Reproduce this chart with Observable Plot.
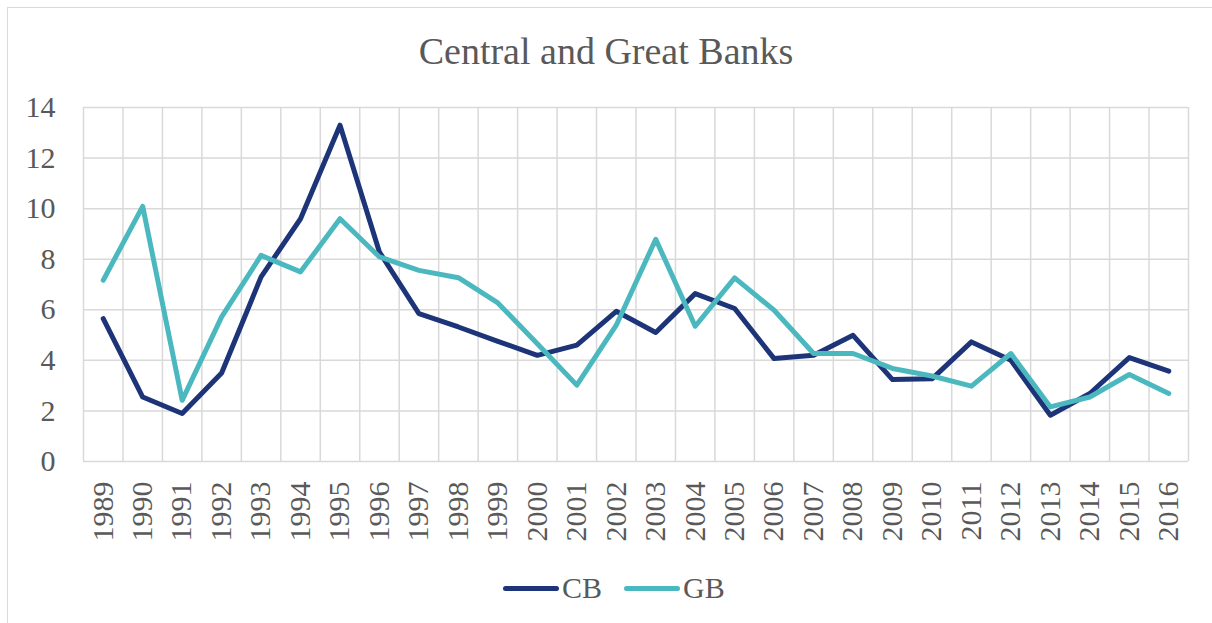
<!DOCTYPE html>
<html>
<head>
<meta charset="utf-8">
<script src="https://cdn.jsdelivr.net/npm/d3@7"></script>
<script src="https://cdn.jsdelivr.net/npm/@observablehq/plot@0.6"></script>
<style>
  html, body { margin: 0; padding: 0; background: #fff; overflow: hidden; }
  #wrap { position: relative; width: 1212px; height: 623px; font-family: "Liberation Serif", "Times New Roman", serif; color: #595959; }
  #frame { position: absolute; left: 7px; top: 7px; width: 1300px; height: 700px; border-left: 1.5px solid #d9d9d9; border-top: 1.5px solid #d9d9d9; }
  #title { position: absolute; left: 0; width: 1212px; top: 28px; text-align: center; font-size: 38px; line-height: 46px; }
  #legend { position: absolute; left: 503px; top: 569px; display: flex; align-items: center; font-size: 30px; line-height: 38px; }
  .sw { display: inline-block; width: 56px; height: 5px; border-radius: 3px; margin-right: 3px; }
  #chart { position: absolute; left: 0; top: 0; }
  #chart svg, #chart svg text { font-family: "Liberation Serif", "Times New Roman", serif !important; }
</style>
</head>
<body>
<div id="wrap">
  <div id="frame"></div>
  <div id="chart"></div>
  <div id="title">Central and Great Banks</div>
  <div id="legend"></div>
</div>
<script>
const years = [1989,1990,1991,1992,1993,1994,1995,1996,1997,1998,1999,2000,2001,2002,2003,2004,2005,2006,2007,2008,2009,2010,2011,2012,2013,2014,2015,2016];
const cbValues = [5.65,2.55,1.90,3.50,7.30,9.60,13.30,8.28,5.85,5.32,4.75,4.20,4.60,5.94,5.10,6.64,6.05,4.07,4.20,4.99,3.24,3.27,4.73,4.00,1.83,2.69,4.11,3.57];
const gbValues = [7.17,10.09,2.42,5.72,8.15,7.50,9.60,8.09,7.56,7.27,6.27,4.66,3.02,5.39,8.79,5.35,7.26,5.98,4.27,4.27,3.68,3.38,2.98,4.27,2.16,2.55,3.44,2.69];
const yTicks = [0,2,4,6,8,10,12,14];
const seriesNames = ["CB","GB"];
const seriesColors = ["#1d3578","#4bb8bf"];

const rows = [];
years.forEach((yr, i) => {
  rows.push({year: yr, value: cbValues[i], series: "CB"});
  rows.push({year: yr, value: gbValues[i], series: "GB"});
});
const boundaries = years.map(y => y - 0.5).concat([years[years.length - 1] + 0.5]);
const serif = "Liberation Serif";

const chart = Plot.plot({
  width: 1212,
  height: 623,
  marginLeft: 83,
  marginRight: 24,
  marginTop: 107,
  marginBottom: 162,
  style: { fontFamily: serif, color: "#595959", background: "transparent", overflow: "visible" },
  x: { type: "linear", domain: [years[0] - 0.5, years[years.length - 1] + 0.5] },
  y: { domain: [0, 14] },
  color: { domain: seriesNames, range: seriesColors },
  marks: [
    Plot.gridY(yTicks, { stroke: "#d9d9d9", strokeOpacity: 1, strokeWidth: 1.5 }),
    Plot.ruleX(boundaries, { stroke: "#d9d9d9", strokeWidth: 1.5 }),
    Plot.axisY(yTicks, { tickSize: 0, tickPadding: 28, fontSize: 30, fontFamily: serif, label: null, fill: "#595959" }),
    Plot.axisX(years, { tickSize: 0, tickPadding: 20, fontSize: 30, fontFamily: serif, rotate: -90, textAnchor: "end", dx: -12, tickFormat: d => String(d), label: null, fill: "#595959" }),
    Plot.line(rows, { x: "year", y: "value", z: "series", stroke: "series", strokeWidth: 5, strokeLinejoin: "round", strokeLinecap: "round" })
  ]
});
document.getElementById("chart").appendChild(chart);

const legend = document.getElementById("legend");
seriesNames.forEach((name, i) => {
  const item = document.createElement("span");
  item.style.display = "flex";
  item.style.alignItems = "center";
  item.style.marginRight = i === 0 ? "22px" : "0";
  const sw = document.createElement("span");
  sw.className = "sw";
  sw.style.background = seriesColors[i];
  const tx = document.createElement("span");
  tx.textContent = name;
  item.appendChild(sw);
  item.appendChild(tx);
  legend.appendChild(item);
});
</script>
</body>
</html>
